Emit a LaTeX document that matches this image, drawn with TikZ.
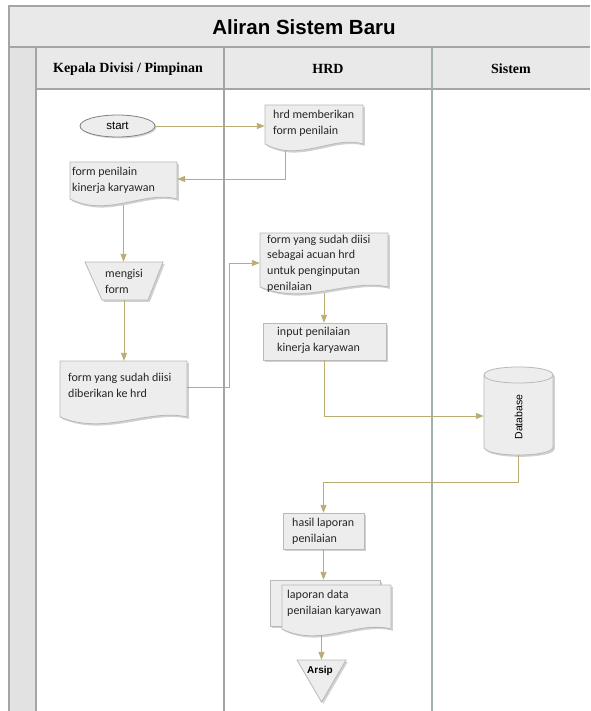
\documentclass[tikz,border=0pt]{standalone}
\usepackage{fontspec}
\setmainfont{Carlito}
\newfontfamily\titlefont{Liberation Sans}
\newfontfamily\headfont{Liberation Serif}
\usetikzlibrary{arrows.meta,shadows,fit,shapes.geometric}
\definecolor{hdr}{RGB}{233,233,233}
\definecolor{stripc}{RGB}{226,226,226}
\definecolor{framec}{RGB}{165,165,165}
\definecolor{framec2}{RGB}{158,176,176}
\definecolor{connc}{RGB}{186,172,114}
\definecolor{shapefill}{RGB}{237,237,237}
\definecolor{shapeborder}{RGB}{185,185,185}
\newcommand{\docpath}[4]{\path[shapest] (#1,#2) -- (#3,#2) -- (#3,{#4-6}) .. controls ({#3-0.3*(#3-#1)},{#4-15}) and ({#1+0.35*(#3-#1)},{#4+13}) .. (#1,{#4-6}) -- cycle;}
\begin{document}
\begin{tikzpicture}[x=1pt,y=-1pt,
  frameline/.style={draw=framec,line width=1.2pt},
  frameline2/.style={draw=framec2,line width=1.2pt},
  shapest/.style={fill=shapefill,draw=shapeborder,line width=0.8pt,
    drop shadow={shadow xshift=1.8pt,shadow yshift=-1.8pt,fill=black,opacity=0.18}},
  fitbox/.style={inner sep=0pt,draw=none},
  txt/.style={inner sep=0pt,anchor=west,align=left,font=\fontsize{12}{15.8}\selectfont,text=black!85},
  headtxt/.style={inner sep=0pt,font=\headfont\bfseries\fontsize{14}{16}\selectfont},
  conn/.style={draw=connc,line width=0.9pt,-{Triangle[length=8pt,width=6pt]}}
]
\useasboundingbox (0,0) rectangle (590,711);
\fill[white] (0,0) rectangle (590,711);
% swimlane frame
\fill[hdr] (9,6) rectangle (590,47);
\fill[hdr] (36,47) rectangle (590,89);
\fill[stripc] (9,47) rectangle (36,711);
\draw[frameline] (590,6) -- (9,6) -- (9,711);
\draw[frameline] (9,47) -- (590,47);
\draw[frameline] (36,47) -- (36,711);
\draw[frameline] (36,89) -- (590,89);
\draw[frameline] (224,47) -- (224,711);
\draw[frameline2] (432,47) -- (432,711);
\node[inner sep=0pt,font=\titlefont\bfseries\fontsize{20.5}{24}\selectfont] (title) at (304,27) {Aliran Sistem Baru};
\node[headtxt] (h1) at (128,69) {Kepala Divisi / Pimpinan};
\node[headtxt] (h2) at (328,69) {HRD};
\node[headtxt] (h3) at (511,69) {Sistem};
% start
\node[ellipse,fill=shapefill,draw=black!50,line width=0.8pt,minimum width=75pt,minimum height=22pt,inner sep=0pt,
  drop shadow={shadow xshift=1.5pt,shadow yshift=-1.5pt,fill=black,opacity=0.15},
  font=\titlefont\fontsize{11.5}{13}\selectfont] (start) at (117.5,126) {start};
% hrd memberikan
\docpath{265}{105}{363}{150}
\node[fitbox,fit={(265,105) (363,150)}] (hrd) {};
\node[txt] (hrd-t) at (273,123.5) {hrd memberikan\\form penilain};
% form penilain
\docpath{70}{162}{177}{205}
\node[fitbox,fit={(70,162) (177,205)}] (formpen) {};
\node[txt] (formpen-t) at (72,180) {form penilain\\kinerja karyawan};
% mengisi form
\path[shapest] (85,262) -- (163,262) -- (148,300) -- (102,300) -- cycle;
\node[fitbox,fit={(85,262) (163,300)}] (mengisi) {};
\node[txt] (mengisi-t) at (105,281.5) {mengisi\\form};
% diberikan
\docpath{60}{361}{187}{423}
\node[fitbox,fit={(60,361) (187,423)}] (diberi) {};
\node[txt] (diberi-t) at (68,385.5) {form yang sudah diisi\\diberikan ke hrd};
% sebagai acuan
\docpath{260}{233}{388}{293}
\node[fitbox,fit={(260,233) (388,293)}] (sebagai) {};
\node[txt] (sebagai-t) at (267,263.5) {form yang sudah diisi\\sebagai acuan hrd\\untuk penginputan\\penilaian};
% input
\path[shapest] (263,323) rectangle (386,360);
\node[fitbox,fit={(263,323) (386,360)}] (input) {};
\node[txt] (input-t) at (277,340.5) {input penilaian\\kinerja karyawan};
% database
\path[shapest] (484,375) -- (484,447) .. controls (484,457.7) and (553,457.7) .. (553,447) -- (553,375) .. controls (553,364.3) and (484,364.3) .. (484,375) -- cycle;
\draw[shapeborder,line width=0.8pt] (484,375) .. controls (484,385.7) and (553,385.7) .. (553,375);
\node[fitbox,fit={(484,367) (553,455)}] (db) {};
\node[inner sep=0pt,rotate=90,font=\titlefont\fontsize{10.5}{12}\selectfont] (db-t) at (518.5,417) {Database};
% hasil laporan
\path[shapest] (283,513) rectangle (364,549);
\node[fitbox,fit={(283,513) (364,549)}] (hasil) {};
\node[txt] (hasil-t) at (292,531) {hasil laporan\\penilaian};
% laporan data (multi document)
\path[shapest] (270,580) rectangle (380,626);
\docpath{282}{585}{391}{635}
\node[fitbox,fit={(270,580) (391,635)}] (multi) {};
\node[txt] (multi-t) at (287,603) {laporan data\\penilaian karyawan};
% arsip
\path[shapest] (297,660) -- (346,660) -- (321.5,702) -- cycle;
\node[fitbox,fit={(297,660) (346,702)}] (arsip) {};
\node[inner sep=0pt,font=\titlefont\bfseries\fontsize{10}{12}\selectfont] (arsip-t) at (320,671) {Arsip};
% connectors
\draw[conn] (start.east) -- (start.east -| hrd.west);
\draw[conn] ([xshift=-29pt]hrd.south) |- ([yshift=4.5pt]formpen.east);
\draw[conn] (formpen.south) -- (formpen.south |- mengisi.north);
\draw[conn] (mengisi.south) -- (mengisi.south |- diberi.north);
\draw[conn] ([yshift=5pt]diberi.east) -- ++(42,0) |- (sebagai.west);
\draw[conn] (sebagai.south) -- (sebagai.south |- input.north);
\draw[conn] (input.south) |- ([yshift=-5pt]db.west);
\draw[conn] (db.south) -- ++(0,27) -| (hasil.north);
\draw[conn] (hasil.south) -- (hasil.south |- multi.north);
\draw[conn] (arsip.north |- multi.south) -- (arsip.north);
\end{tikzpicture}
\end{document}
